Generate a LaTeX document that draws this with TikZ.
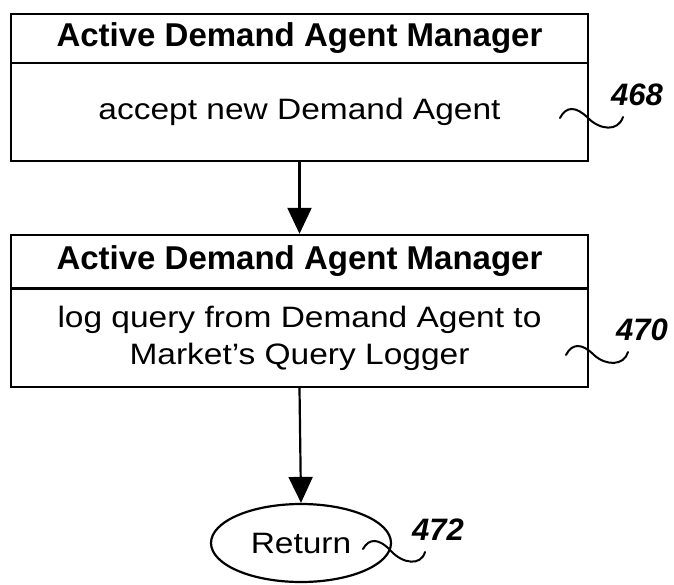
\documentclass[tikz,border=0pt]{standalone}
\usepackage{fontspec}
\setmainfont{Liberation Sans}
\newfontfamily\bodyfont[FakeStretch=1.135,Ligatures=TeX]{Liberation Sans}
\usetikzlibrary{arrows.meta,shapes.geometric}
\begin{document}
\begin{tikzpicture}[x=1pt,y=-1pt]
\useasboundingbox (0,0) rectangle (674,584);
\tikzset{
  cell/.style={draw, line width=2.4pt, minimum width=577pt, inner sep=0pt, align=center},
  headtxt/.style={font=\fontsize{33}{36}\selectfont\bfseries},
  bodytxt/.style={font=\bodyfont\fontsize{29.5}{37}\selectfont},
  flow/.style={line width=2.2pt, -{Triangle[length=26pt,width=24pt]}},
  squig/.style={line width=2pt, line cap=round},
  refnum/.style={font=\fontsize{31}{34}\selectfont\bfseries\itshape, inner sep=0pt}
}
\node[cell, headtxt, minimum height=49pt] (h1) at (299.5,38.5) {Active Demand Agent Manager};
\node[cell, bodytxt, minimum height=98pt] (b1) at (299.5,112) {accept new Demand Agent};
\node[cell, headtxt, minimum height=53pt] (h2) at (299.5,261.5) {Active Demand Agent Manager};
\node[cell, bodytxt, minimum height=98pt] (b2) at (299.5,338) {log query from Demand Agent to\\Market’s Query Logger};
\node[ellipse, draw, line width=2.2pt, minimum width=180pt, minimum height=78pt, inner sep=0pt, bodytxt] (r) at (301,543) {Return};
\draw[flow] (b1.south) -- (h2.north);
\draw[flow] (b2.south) -- (r.north);
\node[refnum] (n468) at (637,95) {468};
\node[refnum] (n470) at (642,330) {470};
\node[refnum] (n472) at (438,530) {472};
\coordinate (s1) at (560,118);
\coordinate (e1) at (623,117);
\draw[squig] (s1) .. controls (566,106) and (576,106) .. (588,118) .. controls (600,130) and (618,132) .. (e1);
\coordinate (s2) at (566,355);
\coordinate (e2) at (628,352);
\draw[squig] (s2) .. controls (572,343) and (582,343) .. (594,355) .. controls (606,366) and (624,366) .. (e2);
\coordinate (s3) at (363,549);
\coordinate (e3) at (425,552);
\draw[squig] (s3) .. controls (369,538) and (379,538) .. (391,551) .. controls (403,564) and (421,566) .. (e3);
\end{tikzpicture}
\end{document}
